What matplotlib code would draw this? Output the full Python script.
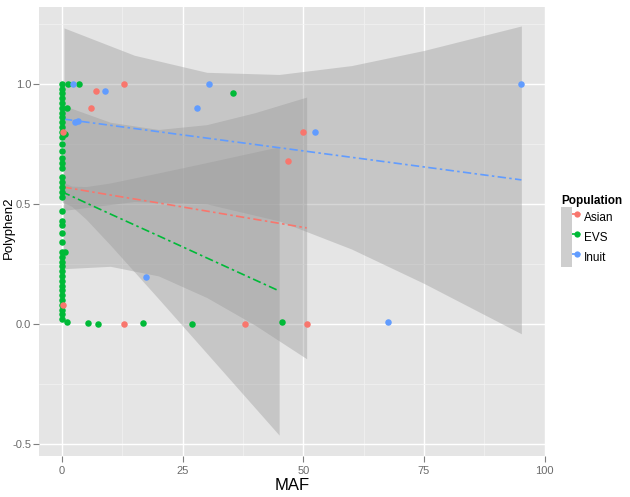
import numpy as np
import matplotlib
matplotlib.use('agg')
import matplotlib.pyplot as plt
from matplotlib.lines import Line2D
from matplotlib.patches import Patch
from matplotlib.legend_handler import HandlerTuple

plt.rcParams['font.family'] = ['Liberation Sans', 'DejaVu Sans']

# points
evs_x = [0] * 42 + [1.2, 1.0, 0.6, 0.6, 1.0, 3.5, 5.4, 7.4, 16.7, 26.9, 35.4, 45.5]
evs_y = [1.0, 0.98, 0.96, 0.94, 0.92, 0.90, 0.88, 0.86, 0.84, 0.82, 0.80, 0.78,
         0.75, 0.72, 0.69, 0.67, 0.65,
         0.61, 0.59, 0.57, 0.55, 0.53,
         0.47, 0.43, 0.41, 0.38, 0.34,
         0.30, 0.28, 0.26, 0.24, 0.22, 0.20, 0.18, 0.16, 0.14, 0.12, 0.10,
         0.08, 0.06, 0.04, 0.02,
         1.0, 0.90, 0.79, 0.30, 0.01, 1.0, 0.004, 0.0, 0.003, 0.0, 0.96, 0.008]
asian_x = [0.2, 0.3, 6.0, 7.0, 12.8, 12.9, 38.0, 46.8, 49.9, 50.7]
asian_y = [0.80, 0.08, 0.90, 0.97, 1.0, 0.0, 0.0, 0.68, 0.80, 0.0]
inuit_x = [2.3, 2.7, 3.3, 8.9, 17.4, 28.0, 30.4, 52.4, 67.5, 95.2]
inuit_y = [1.0, 0.84, 0.845, 0.97, 0.196, 0.90, 1.0, 0.80, 0.008, 1.0]

# linear fits and confidence bands
asian_fx = [0.3, 10, 20, 30, 40, 50.7]
asian_fit = [0.570, 0.537, 0.504, 0.470, 0.436, 0.400]
asian_hi = [0.91, 0.84, 0.81, 0.83, 0.88, 0.945]
asian_lo = [0.23, 0.24, 0.20, 0.11, -0.005, -0.145]

evs_fx = [0, 2, 5, 10, 20, 30, 45]
evs_fit = [0.550, 0.532, 0.504, 0.458, 0.367, 0.275, 0.1375]
evs_hi = [0.592, 0.574, 0.572, 0.587, 0.629, 0.672, 0.738]
evs_lo = [0.508, 0.490, 0.436, 0.329, 0.105, -0.122, -0.463]

inuit_fx = [0.4, 15, 30, 45, 60, 75, 95.2]
inuit_fit = [0.853, 0.814, 0.774, 0.734, 0.694, 0.654, 0.600]
inuit_hi = [1.233, 1.119, 1.048, 1.039, 1.076, 1.139, 1.241]
inuit_lo = [0.473, 0.510, 0.500, 0.429, 0.312, 0.169, -0.041]

names = ['Asian', 'EVS', 'Inuit']
colors = ['#F8766D', '#00BA38', '#619CFF']

fig = plt.figure(figsize=(6.3, 4.97), dpi=100)
ax = fig.add_axes([39 / 630, 41 / 497, 506 / 630, 449 / 497])
ax.set_facecolor('#E5E5E5')
for s in ax.spines.values():
    s.set_visible(False)

ax.set_xlim(-4.77, 100.1)
ax.set_ylim(-0.55, 1.32)
ax.set_xticks([0, 25, 50, 75, 100])
ax.set_yticks([-0.5, 0.0, 0.5, 1.0])
ax.set_yticklabels(['-0.5', '0.0', '0.5', '1.0'])
ax.set_xticks([12.5, 37.5, 62.5, 87.5], minor=True)
ax.set_yticks([-0.25, 0.25, 0.75, 1.25], minor=True)
ax.grid(which='major', color='white', lw=1.0, zorder=0)
ax.grid(which='minor', color='#F2F2F2', lw=0.5, zorder=0)
ax.set_axisbelow(True)
ax.tick_params(which='major', length=4, width=0.8, color='#7F7F7F',
               labelcolor='#6B6B6B', labelsize=8)
ax.tick_params(axis='x', which='major', pad=3)
ax.tick_params(axis='y', which='major', pad=1.5)
ax.tick_params(which='minor', length=0)

fits = [(asian_fx, asian_fit, asian_hi, asian_lo),
        (evs_fx, evs_fit, evs_hi, evs_lo),
        (inuit_fx, inuit_fit, inuit_hi, inuit_lo)]
dash = (0, (5, 2, 1.5, 2))
for (fx, fit, hi, lo), c in zip(fits, colors):
    ax.fill_between(fx, lo, hi, color='#999999', alpha=0.4, lw=0, zorder=2)
for (fx, fit, hi, lo), c in zip(fits, colors):
    ax.plot(fx, fit, color=c, lw=1.2, ls=dash, zorder=3)

ax.scatter(evs_x, evs_y, s=22, color=colors[1], lw=0, zorder=4)
ax.scatter(asian_x, asian_y, s=22, color=colors[0], lw=0, zorder=5)
ax.scatter(inuit_x, inuit_y, s=22, color=colors[2], lw=0, zorder=6)

ax.set_xlabel('MAF', fontsize=12, labelpad=2)
ax.set_ylabel('Polyphen2', fontsize=9.5)
ax.yaxis.set_label_coords(-0.0468, 0.508)

handles = [(Patch(fc='#CECECE', ec='none'),
            Line2D([], [], color=c, lw=1.2, ls=dash, marker='o', ms=4.5, mew=0))
           for c in colors]
leg = ax.legend(handles, names, title='Population',
                handler_map={tuple: HandlerTuple(ndivide=None, pad=0)},
                loc='upper left', bbox_to_anchor=(561 / 630, 1 - 195 / 497),
                bbox_transform=fig.transFigure, frameon=False, fontsize=8.5,
                title_fontproperties={'weight': 'bold', 'size': 8.5},
                alignment='left', handlelength=1.78, handleheight=2.23,
                handletextpad=0.17, labelspacing=0, borderpad=0,
                borderaxespad=0)

fig.savefig('out.png', dpi=100)
